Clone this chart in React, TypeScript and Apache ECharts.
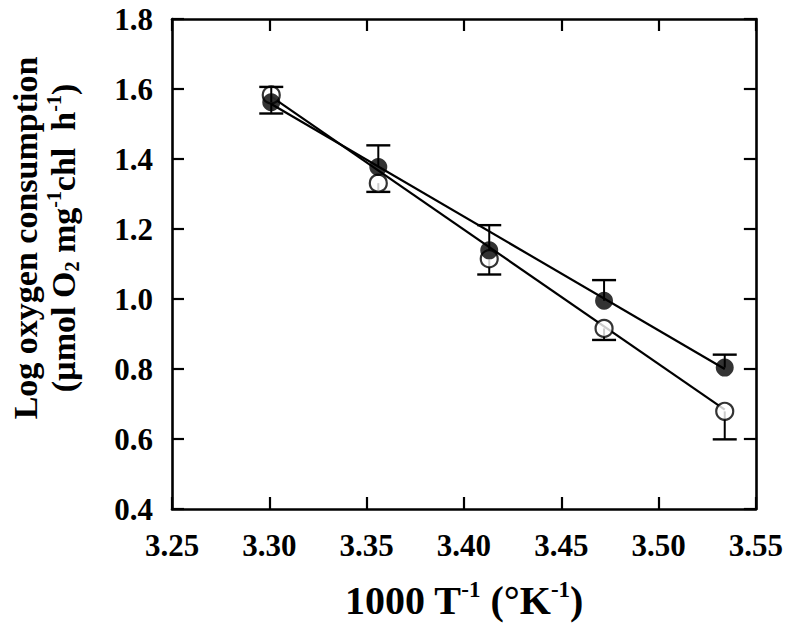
import React, { useEffect, useRef } from "react";
import * as echarts from "echarts";

// ---- data ----
const xValues = [3.301, 3.356, 3.413, 3.472, 3.534];
const openValues = [1.583, 1.331, 1.115, 0.916, 0.679];
const openLower = [1.53, 1.306, 1.07, 0.883, 0.599];
const filledValues = [1.562, 1.377, 1.139, 0.995, 0.804];
const filledUpper = [1.606, 1.439, 1.211, 1.054, 0.841];
const fitX = [3.301, 3.534];
const openFitY = [1.578, 0.684];
const filledFitY = [1.557, 0.8];

const xTicks = [3.25, 3.3, 3.35, 3.4, 3.45, 3.5, 3.55];
const yTicks = [0.4, 0.6, 0.8, 1.0, 1.2, 1.4, 1.6, 1.8];

const FONT = "'Liberation Serif', 'Times New Roman', serif";

function errRender() {
  return (params: any, api: any) => {
    const x = api.value(0);
    const v = api.value(1);
    const e = api.value(2);
    const p1 = api.coord([x, v]);
    const p2 = api.coord([x, e]);
    const hw = 12;
    return {
      type: "group",
      children: [
        { type: "line", shape: { x1: p1[0], y1: p1[1], x2: p2[0], y2: p2[1] }, style: { stroke: "#000", lineWidth: 2 } },
        { type: "line", shape: { x1: p2[0] - hw, y1: p2[1], x2: p2[0] + hw, y2: p2[1] }, style: { stroke: "#000", lineWidth: 2.4 } },
      ],
    };
  };
}

export default function App() {
  const ref = useRef<HTMLDivElement>(null);
  useEffect(() => {
    const chart = echarts.init(ref.current!, null, { renderer: "svg" });
    const axisLine = { show: true, lineStyle: { color: "#000", width: 2.6 } };
    const tick = { show: true, inside: true, length: 12, lineStyle: { color: "#000", width: 2.2 } };
    const labelStyle = { color: "#000", fontFamily: FONT, fontWeight: "bold" as const, fontSize: 31 };
    const openData = xValues.map((x, i) => [x, openValues[i]]);
    const filledData = xValues.map((x, i) => [x, filledValues[i]]);
    chart.setOption({
      animation: false,
      grid: { left: 172, right: 29, top: 19, bottom: 118 },
      xAxis: [
        {
          type: "value", min: xTicks[0], max: xTicks[xTicks.length - 1], interval: 0.05,
          axisLine, axisTick: tick, splitLine: { show: false },
          axisLabel: { ...labelStyle, margin: 21, formatter: (v: number) => v.toFixed(2) },
        },
        {
          type: "value", position: "top", min: xTicks[0], max: xTicks[xTicks.length - 1], interval: 0.05,
          axisLine, axisTick: tick, splitLine: { show: false }, axisLabel: { show: false },
        },
      ],
      yAxis: [
        {
          type: "value", min: yTicks[0], max: yTicks[yTicks.length - 1], interval: 0.2,
          axisLine, axisTick: tick, splitLine: { show: false },
          axisLabel: { ...labelStyle, margin: 19, formatter: (v: number) => v.toFixed(1) },
        },
        {
          type: "value", position: "right", min: yTicks[0], max: yTicks[yTicks.length - 1], interval: 0.2,
          axisLine, axisTick: tick, splitLine: { show: false }, axisLabel: { show: false },
        },
      ],
      series: [
        {
          type: "line", data: fitX.map((x, i) => [x, openFitY[i]]), showSymbol: false, symbol: "none",
          lineStyle: { color: "#000", width: 2.2 }, z: 1,
        },
        {
          type: "line", data: fitX.map((x, i) => [x, filledFitY[i]]), showSymbol: false, symbol: "none",
          lineStyle: { color: "#000", width: 2.2 }, z: 1,
        },
        {
          type: "custom", renderItem: errRender(), data: xValues.map((x, i) => [x, openValues[i], openLower[i]]), z: 2,
        },
        {
          type: "scatter", data: openData, symbol: "circle", symbolSize: 17,
          itemStyle: { color: "#fff", borderColor: "#000", borderWidth: 2.2 }, z: 3,
        },
        {
          type: "custom", renderItem: errRender(), data: xValues.map((x, i) => [x, filledValues[i], filledUpper[i]]), z: 4,
        },
        {
          type: "scatter", data: filledData, symbol: "circle", symbolSize: 18,
          itemStyle: { color: "#000", borderColor: "#000", borderWidth: 0 }, z: 5,
        },
      ],
      graphic: [
        {
          type: "text", x: 464, y: 600,
          style: {
            text: "{a|1000 T}{sup|-1}{a| (°K}{sup|-1}{a|)}",
            align: "center", verticalAlign: "middle",
            rich: {
              a: { fontFamily: FONT, fontWeight: "bold", fontSize: 40, lineHeight: 44, fill: "#000" },
              sup: { fontFamily: FONT, fontWeight: "bold", fontSize: 23, lineHeight: 24, verticalAlign: "top", fill: "#000" },
            },
          },
        },
        {
          type: "text", x: 44, y: 238, rotation: Math.PI / 2,
          style: {
            text: "{a|Log oxygen consumption}\n{a|(µmol O}{sub|2}{a| mg}{sup|-1}{a|chl  h}{sup|-1}{a|)}",
            align: "center", verticalAlign: "middle",
            rich: {
              a: { fontFamily: FONT, fontWeight: "bold", fontSize: 34, lineHeight: 38, fill: "#000" },
              sup: { fontFamily: FONT, fontWeight: "bold", fontSize: 20, lineHeight: 20, verticalAlign: "top", fill: "#000" },
              sub: { fontFamily: FONT, fontWeight: "bold", fontSize: 20, lineHeight: 20, verticalAlign: "bottom", fill: "#000" },
            },
          },
        },
      ],
    });
    return () => chart.dispose();
  }, []);
  return <div ref={ref} style={{ width: 786, height: 627, position: "absolute", left: 0, top: 0 }} />;
}
